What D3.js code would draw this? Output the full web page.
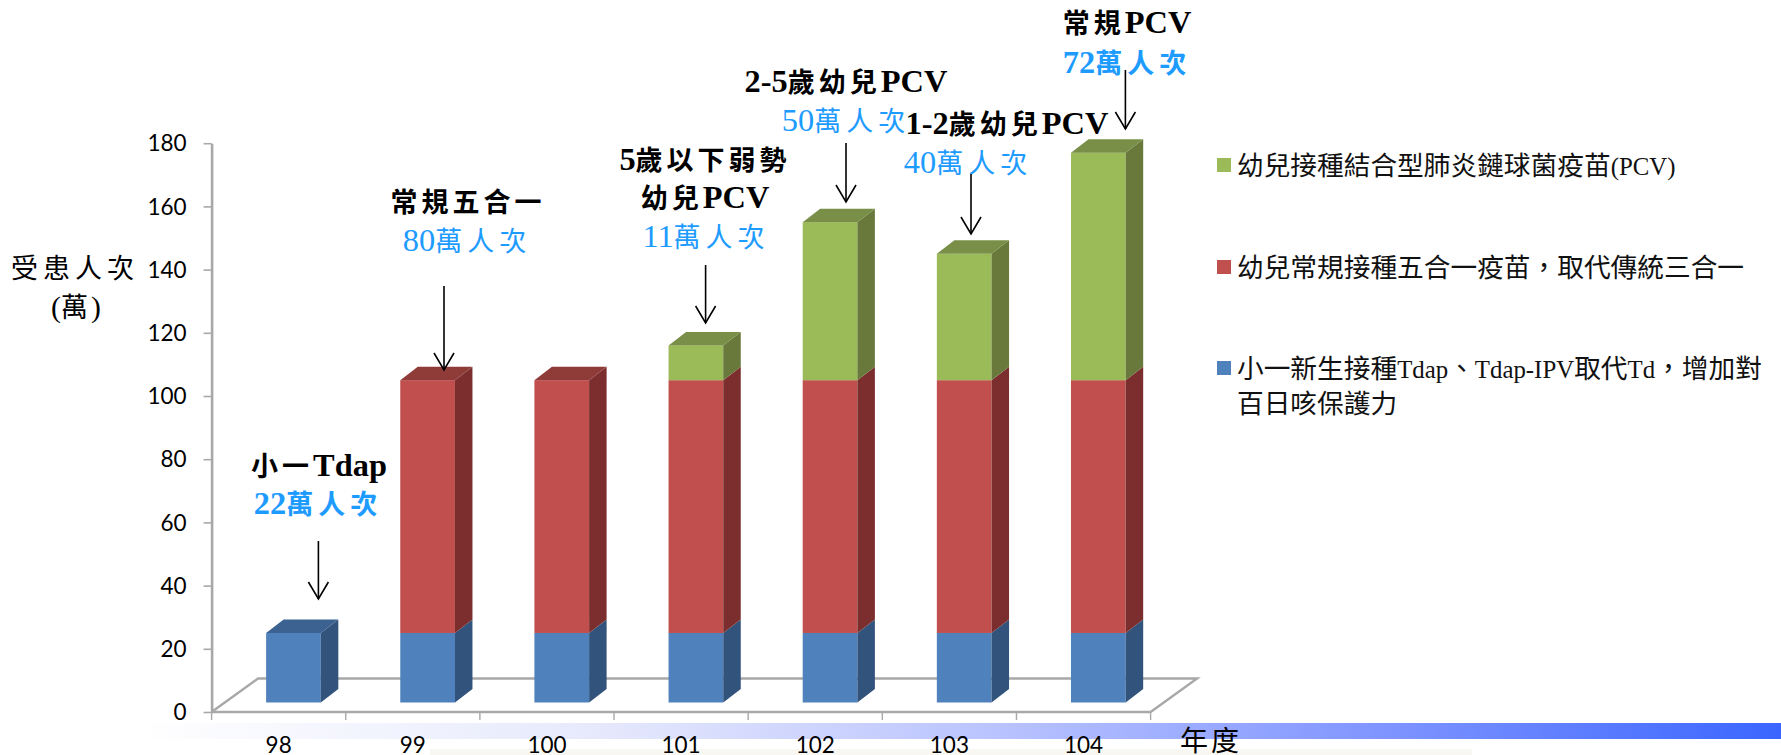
<!DOCTYPE html>
<html><head><meta charset="utf-8">
<script src="https://cdn.jsdelivr.net/npm/d3@7/dist/d3.min.js"></script>
<style>
html,body{margin:0;padding:0;background:#fff;overflow:hidden}
svg{display:block}
</style></head><body>
<svg id="c" width="1781" height="755"></svg>
<script>
const categories = ["98","99","100","101","102","103","104"];
const tdapValues = [22,22,22,22,22,22,22];
const pentaValues = [0,80,80,80,80,80,80];
const pcvValues = [0,0,0,11,50,40,72];
const yTicks = [0,20,40,60,80,100,120,140,160,180];
const seriesKeys = ["tdap","penta","pcv"];
const legendLines = [
  ["幼兒接種結合型肺炎鏈球菌疫苗(PCV)"],
  ["幼兒常規接種五合一疫苗\uFF0C取代傳統三合一"],
  ["小一新生接種Tdap、Tdap-IPV取代Td\uFF0C增加對","百日咳保護力"]
];
const noteTitles = [["小一Tdap"],["常規五合一"],["5歲以下弱勢","幼兒PCV"],["2-5歲幼兒PCV"],["1-2歲幼兒PCV"],["常規PCV"]];
const noteCounts = ["22萬人次","80萬人次","11萬人次","50萬人次","40萬人次","72萬人次"];

// layout and style, separate from the values
const palette = {
  tdap:{front:"#4F81BD",side:"#31527B",top:"#3A6290"},
  penta:{front:"#C0504D",side:"#7B2F2E",top:"#8F3B39"},
  pcv:{front:"#9BBB59",side:"#67793B",top:"#798F47"}
};
const sans = "Lato, 'Noto Sans', sans-serif";
const cjk = "'Liberation Serif','Noto Sans CJK TC',serif";
const noteLayout = [
  {tx:319,ty:[466],cx:318,cy:504,boldCount:true,ax:318.4,a0:541,a1:599},
  {tx:468,ty:[202],cx:467,cy:241,ax:444,a0:286,a1:370},
  {tx:705,ty:[160,198],cx:706,cy:237,ax:705.6,a0:265,a1:323},
  {tx:846,ty:[82],cx:846,cy:121,ax:846,a0:143,a1:202},
  {tx:1007,ty:[124],cx:968,cy:163,ax:971,a0:174,a1:234},
  {tx:1127,ty:[23],cx:1127,cy:63,boldCount:true,ax:1125.4,a0:70,a1:129}
];

const svg = d3.select("#c");
const defs = svg.append("defs");
const grad = defs.append("linearGradient").attr("id","band").attr("gradientUnits","userSpaceOnUse")
  .attr("x1",137).attr("x2",1781).attr("y1",0).attr("y2",0);
[[0,"#ffffff"],[0.28,"#E6E9FC"],[0.53,"#B8C2FF"],[0.77,"#7C92FF"],[1,"#3A66FF"]].forEach(s=>
  grad.append("stop").attr("offset",s[0]).attr("stop-color",s[1]));
defs.append("filter").attr("id","soft").attr("x","-5%").attr("y","-5%").attr("width","110%").attr("height","110%")
  .append("feGaussianBlur").attr("stdDeviation",0.45);

// background band and strip behind the x labels
svg.append("rect").attr("x",137).attr("y",723).attr("width",1644).attr("height",16).attr("fill","url(#band)");
svg.append("rect").attr("x",430).attr("y",749).attr("width",1042).attr("height",6).attr("fill","#F8F7F2");

const x = d3.scaleBand().domain(categories).range([211.6,1150.6]);
const y = d3.scaleLinear().domain([0,180]).range([712,143.2]);

const floorDepth = {dx:46.5,dy:33.5};
const barDepth = {dx:17.5,dy:13.5};
const barInset = {dy:9.5, shift:14.8};
const barW = 54.7;

// floor
const x0 = x.range()[0], x1 = x.range()[1], y0 = y(0);
const axisColor = "#A8A8A8";
const floor = svg.append("g").attr("fill","none").attr("stroke",axisColor).attr("stroke-width",2.4).attr("filter","url(#soft)");
floor.append("path").attr("d",d3.line()([[x0,y0],[x0+floorDepth.dx,y0-floorDepth.dy],[x1+floorDepth.dx,y0-floorDepth.dy],[x1,y0]]));
floor.append("path").attr("d",d3.line()([[x0,y0],[x1,y0]])).attr("stroke-width",2.6);

// stacked 3-D bars
const rows = categories.map((c,i)=>({cat:c,tdap:tdapValues[i],penta:pentaValues[i],pcv:pcvValues[i]}));
const stacked = d3.stack().keys(seriesKeys)(rows);
const gBars = svg.append("g").attr("filter","url(#soft)");
const pts = a=>a.map(p=>p.join(",")).join(" ");
rows.forEach((row,i)=>{
  const left = x(row.cat)+x.bandwidth()/2+barInset.shift-barW/2, right = left+barW;
  const g = gBars.append("g");
  let lastTop = null, lastKey = null;
  stacked.forEach(layer=>{
    const d = layer[i];
    if(d[1]-d[0] <= 0) return;
    const yb = y(d[0])-barInset.dy, yt = y(d[1])-barInset.dy, col = palette[layer.key];
    g.append("rect").attr("x",left).attr("y",yt).attr("width",barW).attr("height",yb-yt).attr("fill",col.front);
    g.append("polygon").attr("fill",col.side).attr("points",pts([[right,yb],[right+barDepth.dx,yb-barDepth.dy],[right+barDepth.dx,yt-barDepth.dy],[right,yt]]));
    lastTop = yt; lastKey = layer.key;
  });
  g.append("polygon").attr("fill",palette[lastKey].top).attr("points",
    pts([[left,lastTop],[left+barDepth.dx,lastTop-barDepth.dy],[right+barDepth.dx,lastTop-barDepth.dy],[right,lastTop]]));
});

// y axis
const yAxis = d3.axisLeft(y).tickValues(yTicks).tickSize(8).tickPadding(17).tickSizeOuter(0);
const gy = svg.append("g").attr("transform",`translate(${x0},0)`).call(yAxis);
gy.select(".domain").attr("stroke",axisColor).attr("stroke-width",2.6);
gy.selectAll(".tick line").attr("stroke",axisColor).attr("stroke-width",1.6);
gy.selectAll("text").attr("font-family",sans).attr("font-size",22.5).attr("fill","#000").attr("dy","0.34em");

// x axis
const tickPos = d3.range(categories.length+1).map(i=>x0+i*x.step());
svg.append("g").selectAll("line").data(tickPos).join("line")
  .attr("x1",d=>d).attr("x2",d=>d).attr("y1",y0).attr("y2",720).attr("stroke",axisColor).attr("stroke-width",1.4);
svg.append("g").selectAll("text").data(categories).join("text")
  .attr("x",d=>x(d)+x.bandwidth()/2).attr("y",745.5).attr("dy","0.35em").attr("text-anchor","middle")
  .attr("font-family",sans).attr("font-size",22.5).attr("fill","#000").text(d=>d);

// rich text: letter spacing only on CJK runs; Latin runs scaled separately
function rich(sel,str,spacing,size,latinScale){
  (str.match(/[\u2E80-\u9FFF\uFF00-\uFFEF\u3000-\u303F]+|[^\u2E80-\u9FFF\uFF00-\uFFEF\u3000-\u303F]+/g)||[]).forEach(run=>{
    const isC = /[\u2E80-\u9FFF\uFF00-\uFFEF\u3000-\u303F]/.test(run);
    sel.append("tspan").attr("letter-spacing",isC?spacing:0).attr("font-size",isC?size:size*latinScale).text(run);
  });
}
function label(px,py,str,opt){
  const t = svg.append("text").attr("x",px).attr("y",py).attr("dy","0.36em").attr("text-anchor","middle")
    .attr("font-family",cjk).attr("font-size",opt.size).attr("font-weight",opt.bold?700:400).attr("fill",opt.fill);
  rich(t,str,opt.spacing,opt.size,opt.latin||1);
}

// axis titles
label(75,268,"受患人次",{size:27,spacing:5,fill:"#000"});
label(76,307,"(萬)",{size:27,spacing:3,latin:1.1,fill:"#000"});
label(1211,741,"年度",{size:28,spacing:3,fill:"#000"});

// annotations
const arrow = d3.line();
noteLayout.forEach((n,i)=>{
  noteTitles[i].forEach((s,j)=>label(n.tx,n.ty[j],s,{size:27,spacing:4,latin:1.2,bold:true,fill:"#000"}));
  label(n.cx,n.cy,noteCounts[i],{size:27,spacing:5,latin:1.2,bold:!!n.boldCount,fill:"#1E9BFF"});
  const g = svg.append("g").attr("fill","none").attr("stroke","#000").attr("stroke-width",1.6);
  g.append("path").attr("d",arrow([[n.ax,n.a0],[n.ax,n.a1]]));
  g.append("path").attr("d",arrow([[n.ax-10,n.a1-17],[n.ax,n.a1],[n.ax+10,n.a1-17]]));
});

// legend
const legendY = [165,267,368];
const legendKeys = ["pcv","penta","tdap"];
legendKeys.forEach((k,i)=>{
  svg.append("rect").attr("x",1217).attr("y",legendY[i]-7).attr("width",14).attr("height",14).attr("fill",palette[k].front);
  legendLines[i].forEach((s,j)=>{
    const t = svg.append("text").attr("x",1237).attr("y",legendY[i]+j*35).attr("dy","0.36em")
      .attr("font-family",cjk).attr("font-size",26.7).attr("fill","#111");
    rich(t,s,0,26.7,0.93);
  });
});
</script>
</body></html>
